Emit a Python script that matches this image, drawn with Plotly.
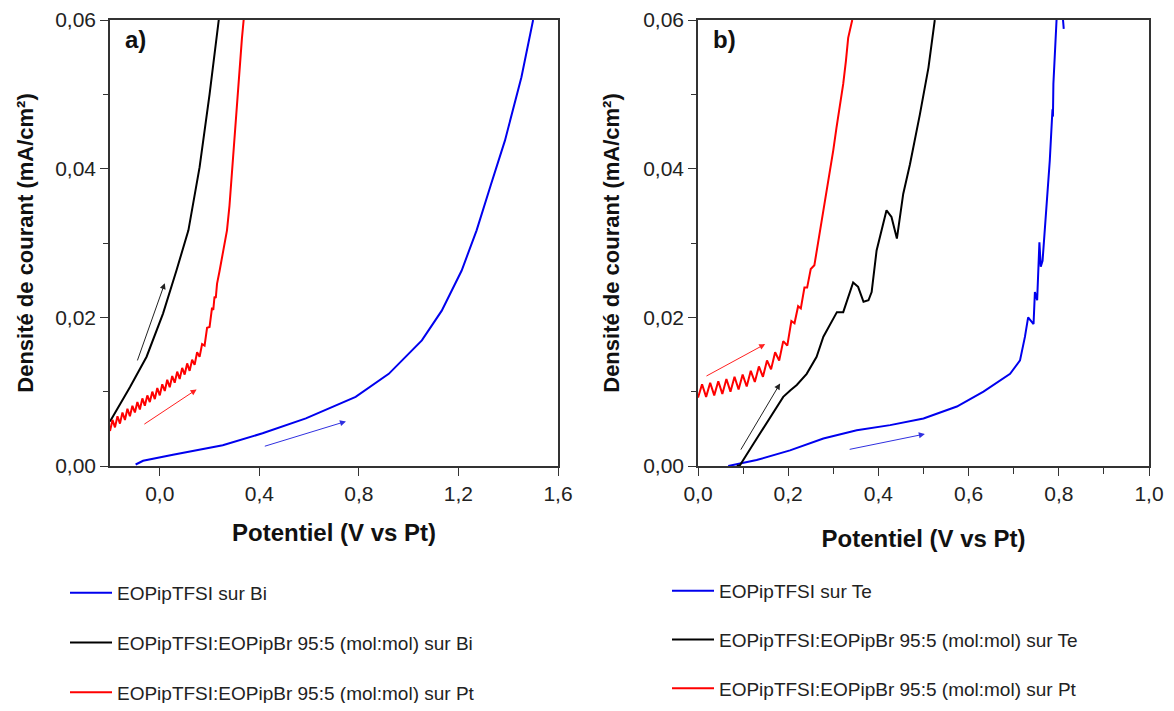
import plotly.graph_objects as go

# ---------------- Data ----------------
# Panel a)
a_blue_x = [-0.097, -0.067, 0.053, 0.253, 0.413, 0.587, 0.787, 0.92, 1.053, 1.133, 1.213, 1.273, 1.33, 1.387, 1.453, 1.50]
a_blue_y = [0.0002, 0.0007, 0.0015, 0.0028, 0.0044, 0.0064, 0.0093, 0.0124, 0.0169, 0.0209, 0.0263, 0.0317, 0.0378, 0.0438, 0.0523, 0.0600]

a_black_x = [-0.2, -0.193, -0.16, -0.12, -0.053, 0.013, 0.067, 0.115, 0.16, 0.2, 0.237]
a_black_y = [0.0060, 0.0064, 0.0084, 0.0106, 0.0147, 0.0205, 0.0263, 0.0317, 0.0402, 0.0500, 0.0600]

a_red_x = [-0.20, -0.19, -0.18, -0.17, -0.16, -0.15, -0.14, -0.13, -0.12, -0.11,
           -0.10, -0.09, -0.08, -0.07, -0.06, -0.05, -0.04, -0.03, -0.02, -0.01,
           0.00, 0.01, 0.02, 0.03, 0.04, 0.05, 0.06, 0.07, 0.08, 0.09,
           0.10, 0.11, 0.12, 0.13, 0.14, 0.15, 0.16, 0.17, 0.18, 0.19,
           0.20, 0.21, 0.215, 0.22, 0.225, 0.23, 0.24, 0.25, 0.26, 0.27,
           0.28, 0.29, 0.30, 0.31, 0.32, 0.33, 0.337]
a_red_y = [0.0047, 0.0062, 0.0052, 0.0067, 0.0057, 0.0072, 0.0062, 0.0077, 0.0067, 0.0081,
           0.0072, 0.0086, 0.0076, 0.0091, 0.0081, 0.0095, 0.0086, 0.0100, 0.0090, 0.0105,
           0.0095, 0.0110, 0.0101, 0.0116, 0.0106, 0.0121, 0.0112, 0.0127, 0.0117, 0.0132,
           0.0123, 0.0138, 0.0128, 0.0143, 0.0136, 0.0153, 0.0147, 0.0164, 0.0162, 0.0186,
           0.0187, 0.0213, 0.0210, 0.0228, 0.0226, 0.0245, 0.0262, 0.0282, 0.0300, 0.0317,
           0.0350, 0.0395, 0.0440, 0.0496, 0.0540, 0.0575, 0.0600]

# Panel b)
b_blue_x = [0.067, 0.13, 0.204, 0.278, 0.352, 0.426, 0.5, 0.574, 0.633, 0.692, 0.714, 0.725, 0.732,
            0.744, 0.747, 0.752, 0.757, 0.760, 0.764, 0.769, 0.780, 0.786, 0.787, 0.788, 0.795, 0.80, 0.808, 0.811]
b_blue_y = [0.0000, 0.0008, 0.0021, 0.0037, 0.0048, 0.0055, 0.0064, 0.0080, 0.0100, 0.0124, 0.0142, 0.0174, 0.0200,
            0.0191, 0.0234, 0.0223, 0.0301, 0.0268, 0.0276, 0.0317, 0.0411, 0.0480, 0.0470, 0.0514, 0.0600, 0.0610, 0.0610, 0.0588]

b_black_x = [0.086, 0.093, 0.123, 0.16, 0.189, 0.205, 0.219, 0.241, 0.263, 0.278, 0.308, 0.322, 0.344, 0.355,
             0.367, 0.378, 0.385, 0.396, 0.407, 0.418, 0.429, 0.441, 0.455, 0.47, 0.492, 0.511, 0.525]
b_black_y = [0.0000, 0.0001, 0.0030, 0.0066, 0.0093, 0.0102, 0.0109, 0.0124, 0.0147, 0.0174, 0.0207, 0.0207, 0.0247, 0.0241,
             0.0221, 0.0223, 0.0234, 0.0290, 0.0317, 0.0344, 0.0335, 0.0306, 0.0366, 0.0406, 0.0473, 0.0536, 0.0600]

b_red_x = [0.000, 0.009, 0.018, 0.027, 0.036, 0.045, 0.054, 0.063, 0.072, 0.081,
           0.090, 0.099, 0.108, 0.117, 0.126, 0.135, 0.144, 0.153, 0.162, 0.171,
           0.180, 0.189, 0.198, 0.207, 0.214, 0.222, 0.228, 0.236, 0.242, 0.250,
           0.258, 0.267, 0.275, 0.285, 0.293, 0.300, 0.307, 0.315, 0.322, 0.328, 0.333, 0.342]
b_red_y = [0.0092, 0.0110, 0.0093, 0.0112, 0.0095, 0.0114, 0.0097, 0.0117, 0.0100, 0.0120,
           0.0103, 0.0123, 0.0107, 0.0128, 0.0113, 0.0134, 0.0120, 0.0142, 0.0130, 0.0153,
           0.0142, 0.0168, 0.0162, 0.0195, 0.0192, 0.0215, 0.0212, 0.0240, 0.0240, 0.0265,
           0.0270, 0.0303, 0.0330, 0.0370, 0.0397, 0.0425, 0.0455, 0.0485, 0.0514, 0.0545, 0.0576, 0.0600]

a_names = ["EOPipTFSI sur Bi",
           "EOPipTFSI:EOPipBr 95:5 (mol:mol) sur Bi",
           "EOPipTFSI:EOPipBr 95:5 (mol:mol) sur Pt"]
b_names = ["EOPipTFSI sur Te",
           "EOPipTFSI:EOPipBr 95:5 (mol:mol) sur Te",
           "EOPipTFSI:EOPipBr 95:5 (mol:mol) sur Pt"]

a_xticks = [0.0, 0.4, 0.8, 1.2, 1.6]
b_xticks = [0.0, 0.2, 0.4, 0.6, 0.8, 1.0]
b_xminor = [0.1, 0.3, 0.5, 0.7, 0.9]
yticks = [0.00, 0.02, 0.04, 0.06]
yminor = [0.01, 0.03, 0.05]

# Direction arrows: (x_tail, y_tail, x_head, y_head, colour)
a_arrows = [(-0.092, 0.0140, 0.020, 0.0246, "#222222"),
            (-0.068, 0.0055, 0.148, 0.0103, "#ff2020"),
            (0.416, 0.0026, 0.748, 0.0060, "#3030e0")]
b_arrows = [(0.093, 0.0020, 0.182, 0.0111, "#222222"),
            (0.0155, 0.0120, 0.149, 0.0164, "#ff2020"),
            (0.333, 0.0022, 0.503, 0.0043, "#3030e0")]

BLUE = "#0000ee"
BLACK = "#000000"
RED = "#ff0000"
FONT = "Arial, 'Liberation Sans', sans-serif"

# page has an 8px body margin; figure coordinates = reference pixels - 8
W, H = 1158, 695
OFF = 8


def fx(p):
    return (p - OFF) / W


def fy(p):
    return 1 - (p - OFF) / H


fig = go.Figure()
ydom = [fy(466), fy(20)]
fig.update_layout(
    xaxis=dict(domain=[fx(110), fx(558)], anchor="y"),
    xaxis2=dict(domain=[fx(698), fx(1149)], anchor="y2"),
    yaxis=dict(domain=ydom, anchor="x"),
    yaxis2=dict(domain=ydom, anchor="x2"),
)

colors = [BLUE, BLACK, RED]
a_data = [(a_blue_x, a_blue_y), (a_black_x, a_black_y), (a_red_x, a_red_y)]
b_data = [(b_blue_x, b_blue_y), (b_black_x, b_black_y), (b_red_x, b_red_y)]

for i, ((xs, ys), name, c) in enumerate(zip(a_data, a_names, colors)):
    fig.add_trace(go.Scatter(x=xs, y=ys, mode="lines", name=name,
                             line=dict(color=c, width=2), xaxis="x", yaxis="y",
                             legend="legend", legendgroup="a%d" % i))
for i, ((xs, ys), name, c) in enumerate(zip(b_data, b_names, colors)):
    fig.add_trace(go.Scatter(x=xs, y=ys, mode="lines", name=name,
                             line=dict(color=c, width=2), xaxis="x2", yaxis="y2",
                             legend="legend2", legendgroup="b%d" % i))

axis_common = dict(showline=True, linecolor="#333333", linewidth=1.5, mirror=True,
                   ticks="outside", ticklen=8, tickwidth=1.3, tickcolor="#333333",
                   showgrid=False, zeroline=False,
                   tickfont=dict(family=FONT, size=21, color="#222222"))
xtitle_font = dict(family=FONT, size=24, color="#111111")
ytitle_font = dict(family=FONT, size=22, color="#111111")
minor_y = dict(tickvals=yminor, ticklen=5, ticks="outside", tickcolor="#333333")

fig.update_xaxes(**axis_common)
fig.update_yaxes(**axis_common)

fig.update_layout(
    xaxis=dict(range=[-0.2, 1.6], tickvals=a_xticks, tickformat=".1f",
               title=dict(text="<b>Potentiel (V vs Pt)</b>", font=xtitle_font, standoff=20)),
    yaxis=dict(range=[0, 0.06], tickvals=yticks, tickformat=".2f", minor=minor_y,
               title=dict(text="<b>Densité de courant (mA/cm²)</b>", font=ytitle_font, standoff=15)),
    xaxis2=dict(range=[0, 1.0], tickvals=b_xticks, tickformat=".1f",
                minor=dict(tickvals=b_xminor, ticklen=6, ticks="outside", tickcolor="#333333"),
                title=dict(text="<b>Potentiel (V vs Pt)</b>", font=xtitle_font, standoff=26)),
    yaxis2=dict(range=[0, 0.06], tickvals=yticks, tickformat=".2f", minor=minor_y,
                title=dict(text="<b>Densité de courant (mA/cm²)</b>", font=ytitle_font, standoff=17)),
)

annotations = []
for (x0, y0, x1, y1, c) in a_arrows:
    annotations.append(dict(x=x1, y=y1, ax=x0, ay=y0, xref="x", yref="y", axref="x", ayref="y",
                            showarrow=True, arrowhead=2, arrowsize=1.2, arrowwidth=1, arrowcolor=c, text=""))
for (x0, y0, x1, y1, c) in b_arrows:
    annotations.append(dict(x=x1, y=y1, ax=x0, ay=y0, xref="x2", yref="y2", axref="x2", ayref="y2",
                            showarrow=True, arrowhead=2, arrowsize=1.2, arrowwidth=1, arrowcolor=c, text=""))
annotations.append(dict(text="<b>a)</b>", xref="x domain", yref="y domain", x=0.03, y=0.99,
                        xanchor="left", yanchor="top", showarrow=False,
                        font=dict(family=FONT, size=24, color="#111111")))
annotations.append(dict(text="<b>b)</b>", xref="x2 domain", yref="y2 domain", x=0.028, y=0.99,
                        xanchor="left", yanchor="top", showarrow=False,
                        font=dict(family=FONT, size=24, color="#111111")))

legend_font = dict(family=FONT, size=19, color="#222222")
fig.update_layout(
    annotations=annotations,
    width=W, height=H,
    margin=dict(l=0, r=0, t=0, b=0, autoexpand=False),
    paper_bgcolor="white", plot_bgcolor="white",
    separators=", ",
    legend=dict(x=fx(70) - 5 / W, y=fy(574), xanchor="left", yanchor="top", font=legend_font,
                tracegroupgap=22, itemwidth=42, bgcolor="rgba(0,0,0,0)", traceorder="grouped"),
    legend2=dict(x=fx(672) - 5 / W, y=fy(572), xanchor="left", yanchor="top", font=legend_font,
                 tracegroupgap=21, itemwidth=42, bgcolor="rgba(0,0,0,0)", traceorder="grouped"),
)

fig.write_html("out.html")
